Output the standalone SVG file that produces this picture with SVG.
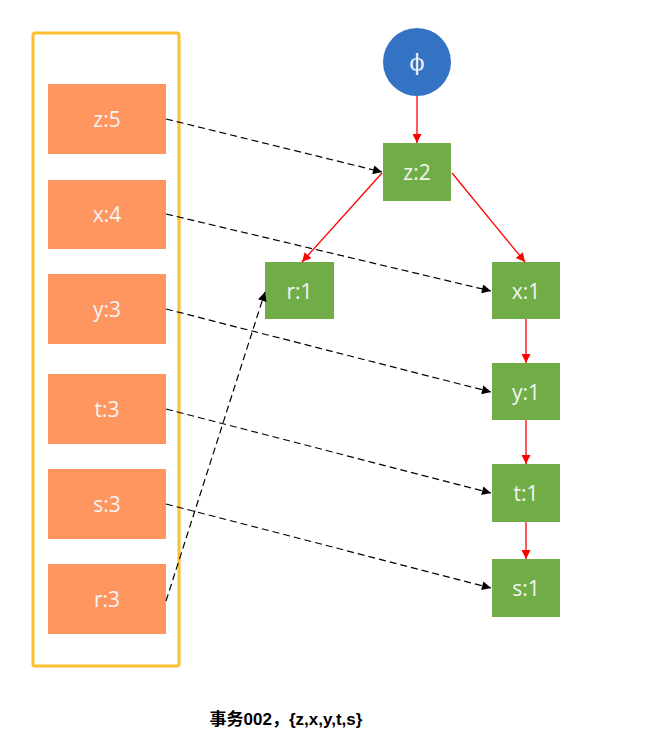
<svg xmlns="http://www.w3.org/2000/svg" width="653" height="741" viewBox="0 0 653 741">
<defs>
<marker id="ab" viewBox="0 0 10 10" refX="10" refY="5" markerWidth="13" markerHeight="9" markerUnits="userSpaceOnUse" orient="auto"><path d="M0,0 L10,5 L0,10 z" fill="#000"/></marker>
<marker id="ar" viewBox="0 0 10 10" refX="10" refY="5" markerWidth="12" markerHeight="9" markerUnits="userSpaceOnUse" orient="auto"><path d="M0,0 L10,5 L0,10 z" fill="#FF0000"/></marker>
</defs>
<style>
.o{fill:#FF955F}
.g{fill:#70AD47}
.t{font-family:"Open Sans","Noto Sans","Liberation Sans",sans-serif;font-size:21px;fill:#F4F4F4;text-anchor:middle;dominant-baseline:central}
.d{stroke:#000;stroke-width:1.2;stroke-dasharray:7,4;fill:none;marker-end:url(#ab)}
.r{stroke:#FF0000;stroke-width:1.3;fill:none;marker-end:url(#ar)}
</style>
<rect width="653" height="741" fill="#fff"/>
<rect id="container" x="33" y="33" width="146" height="633" rx="2" fill="none" stroke="#FFC030" stroke-width="3"/>
<g id="n-z5"><rect class="o" x="48" y="84" width="118" height="70"/><text class="t" x="107" y="119">z:5</text></g>
<g id="n-x4"><rect class="o" x="48" y="180" width="118" height="69"/><text class="t" x="107" y="214">x:4</text></g>
<g id="n-y3"><rect class="o" x="48" y="274" width="118" height="70"/><text class="t" x="107" y="309">y:3</text></g>
<g id="n-t3"><rect class="o" x="48" y="374" width="118" height="70"/><text class="t" x="107" y="409">t:3</text></g>
<g id="n-s3"><rect class="o" x="48" y="469" width="118" height="70"/><text class="t" x="107" y="504">s:3</text></g>
<g id="n-r3"><rect class="o" x="48" y="564" width="118" height="70"/><text class="t" x="107" y="599">r:3</text></g>
<g id="n-phi"><circle cx="417" cy="62" r="34" fill="#3472C4"/><text x="417" y="62" font-family="DejaVu Serif,Liberation Serif,serif" font-size="22" fill="#F4F4F4" text-anchor="middle" dominant-baseline="central">ϕ</text></g>
<g id="n-z2"><rect class="g" x="383" y="143" width="68" height="58"/><text class="t" x="417" y="172">z:2</text></g>
<g id="n-r1"><rect class="g" x="265" y="262" width="69" height="57"/><text class="t" x="299.5" y="291">r:1</text></g>
<g id="n-x1"><rect class="g" x="492" y="262" width="68" height="57"/><text class="t" x="526" y="291">x:1</text></g>
<g id="n-y1"><rect class="g" x="492" y="363" width="68" height="57"/><text class="t" x="526" y="392">y:1</text></g>
<g id="n-t1"><rect class="g" x="492" y="464" width="68" height="58"/><text class="t" x="526" y="493">t:1</text></g>
<g id="n-s1"><rect class="g" x="492" y="559" width="68" height="58"/><text class="t" x="526" y="588">s:1</text></g>
<g id="connectors">
<line class="r" x1="417" y1="96" x2="417" y2="143"/>
<line class="r" x1="382" y1="173" x2="302" y2="262"/>
<line class="r" x1="452" y1="173" x2="525" y2="262"/>
<line class="r" x1="526" y1="319" x2="526" y2="363"/>
<line class="r" x1="526" y1="420" x2="526" y2="464"/>
<line class="r" x1="526" y1="522" x2="526" y2="559"/>
<line class="d" x1="166" y1="119" x2="382" y2="172"/>
<line class="d" x1="166" y1="214" x2="491" y2="291"/>
<line class="d" x1="166" y1="309" x2="491" y2="392"/>
<line class="d" x1="166" y1="409" x2="491" y2="493"/>
<line class="d" x1="166" y1="504" x2="491" y2="588"/>
<line class="d" x1="166" y1="601" x2="265" y2="292"/>
</g>
<text id="caption" x="286" y="725" font-family="Liberation Sans,Noto Sans CJK SC,sans-serif" font-weight="bold" font-size="17" fill="#000" text-anchor="middle">事务002，{z,x,y,t,s}</text>
</svg>
